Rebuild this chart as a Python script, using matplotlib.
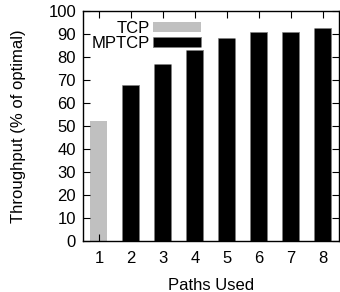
import matplotlib
matplotlib.use("Agg")
import matplotlib.pyplot as plt
from matplotlib.patches import Patch

plt.rcParams['font.family'] = ['Liberation Sans', 'DejaVu Sans']

paths = [1, 2, 3, 4, 5, 6, 7, 8]
tcp_paths = [1]
tcp_values = [52]
mptcp_paths = [2, 3, 4, 5, 6, 7, 8]
mptcp_values = [68, 77, 83, 88.5, 91, 91, 92.5]

fig = plt.figure(figsize=(3.4, 2.92), dpi=100)
ax = fig.add_axes([0.244, 0.175, 0.753, 0.787])

ax.bar(tcp_paths, tcp_values, width=0.53, color='#c0c0c0', linewidth=0)
ax.bar(mptcp_paths, mptcp_values, width=0.53, color='black',
       edgecolor='#808080', linewidth=0.6, linestyle='--')

ax.set_xlim(0.5, 8.5)
ax.set_ylim(0, 100)
ax.set_xticks(paths)
ax.set_yticks(range(0, 101, 10))
ax.tick_params(direction='in', length=5, width=0.8, top=True, right=True,
               labelsize=12)
ax.tick_params(axis='x', pad=7)
ax.tick_params(axis='y', pad=5)
for s in ax.spines.values():
    s.set_linewidth(1.0)

ax.set_xlabel('Paths Used', fontsize=12, labelpad=9)
ax.set_ylabel('Throughput (% of optimal)', fontsize=12, labelpad=16)

handles = [Patch(facecolor='#c0c0c0', linewidth=0),
           Patch(facecolor='black', edgecolor='#808080', linestyle='--', linewidth=0.6)]
ax.legend(handles, ['TCP', 'MPTCP'], loc='upper left', bbox_to_anchor=(-0.005, 1.0),
          frameon=False, markerfirst=False, handlelength=2.85, handleheight=0.55,
          handletextpad=0.2, labelspacing=0.0, fontsize=12, borderaxespad=0.2)

fig.savefig('out.png', dpi=100)
